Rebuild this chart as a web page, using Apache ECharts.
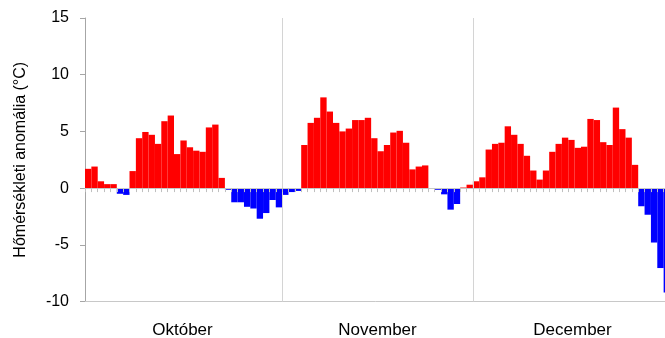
<!DOCTYPE html>
<html>
<head>
<meta charset="utf-8">
<script src="https://cdn.jsdelivr.net/npm/echarts@6/dist/echarts.min.js"></script>
<style>
  html, body { margin: 0; padding: 0; background: #fff; }
  #chart { width: 665px; height: 338px; }
</style>
</head>
<body>
<div id="chart"></div>
<script>
// Daily temperature anomalies (°C), October – December
const months = ['Október', 'November', 'December'];

const octValues = [1.7, 1.9, 0.6, 0.35, 0.35, -0.5, -0.6, 1.5, 4.4, 4.95,
  4.7, 3.9, 5.9, 6.4, 3.0, 4.2, 3.6, 3.3, 3.2, 5.35,
  5.6, 0.9, -0.15, -1.25, -1.25, -1.65, -1.8, -2.7, -2.2, -1.05,
  -1.7];

const novValues = [-0.6, -0.35, -0.25, 3.8, 5.75, 6.2, 8.0, 6.75, 5.75, 5.0,
  5.25, 6.0, 6.0, 6.2, 4.4, 3.25, 3.8, 4.9, 5.05, 4.0,
  1.65, 1.9, 2.0, 0.0, -0.15, -0.55, -1.9, -1.4, 0.05, 0.3];

const decValues = [0.6, 0.95, 3.4, 3.9, 4.0, 5.45, 4.7, 3.9, 2.85, 1.55,
  0.75, 1.55, 3.2, 3.9, 4.45, 4.25, 3.55, 3.65, 6.1, 6.0,
  4.05, 3.8, 7.1, 5.2, 4.45, 2.05, -1.6, -2.35, -4.8, -7.05,
  -9.2];

const monthValues = [octValues, novValues, decValues];

// One category per day, e.g. "Október 1"
const days = [];
const values = [];
monthValues.forEach((arr, m) => {
  arr.forEach((v, i) => {
    days.push(months[m] + ' ' + (i + 1));
    values.push(v);
  });
});

// Indices of the first day of each following month (separator lines)
const monthStarts = [octValues.length, octValues.length + novValues.length];

const FONT = '"Liberation Sans", Arial, sans-serif';
const chart = echarts.init(document.getElementById('chart'), null, { renderer: 'canvas' });

chart.setOption({
  animation: false,
  backgroundColor: '#ffffff',
  textStyle: { fontFamily: FONT },
  // The plot runs past the right edge of the canvas, so the last days are cut off
  grid: {
    left: 85, top: 18, width: 585, height: 283.5,
    containLabel: false,
    outerBoundsMode: 'none'
  },
  xAxis: [
    {
      type: 'category',
      data: days,
      boundaryGap: true,
      position: 'bottom',
      z: 3,
      axisLine: { show: true, onZero: true, lineStyle: { color: '#c8c8c8', width: 1 } },
      axisTick: { show: true, interval: 0, length: 4, lineStyle: { color: '#c0c0c0' } },
      axisLabel: { show: false },
      splitLine: {
        show: true,
        interval: (index) => monthStarts.includes(index),
        lineStyle: { color: '#d4d4d4', width: 1 }
      }
    },
    {
      type: 'category',
      data: months,
      position: 'bottom',
      axisLine: { show: true, onZero: false, lineStyle: { color: '#c8c8c8', width: 1 } },
      axisTick: { show: false },
      axisLabel: { color: '#000', fontSize: 17, margin: 20, fontFamily: FONT },
      splitLine: { show: false }
    }
  ],
  yAxis: {
    type: 'value',
    min: -10,
    max: 15,
    interval: 5,
    name: 'Hőmérsékleti anomália (°C)',
    nameLocation: 'middle',
    nameGap: 56,
    nameTextStyle: { color: '#000', fontSize: 16, fontFamily: FONT },
    axisLine: { show: true, lineStyle: { color: '#a6a6a6', width: 1 } },
    axisTick: { show: true, length: 5, lineStyle: { color: '#a6a6a6' } },
    axisLabel: { color: '#000', fontSize: 16, margin: 16, fontFamily: FONT },
    splitLine: { show: false }
  },
  series: [{
    type: 'bar',
    xAxisIndex: 0,
    data: values,
    barCategoryGap: '0%',
    barWidth: '100%',
    itemStyle: {
      color: (p) => (p.value >= 0 ? '#ff0000' : '#0000ff')
    }
  }]
});
</script>
</body>
</html>
